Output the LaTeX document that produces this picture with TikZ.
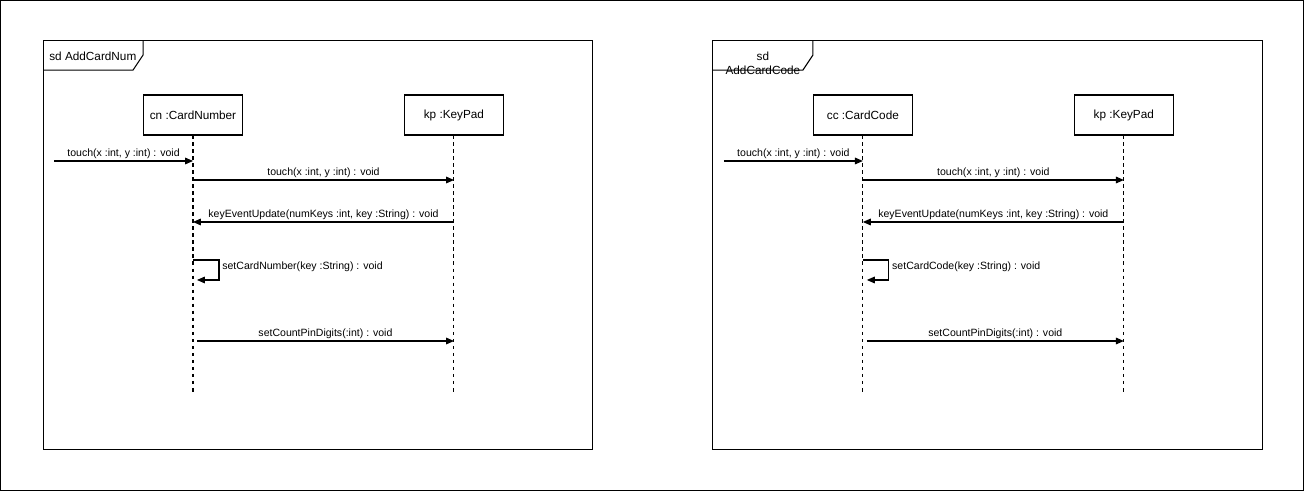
\documentclass[tikz,border=0pt]{standalone}
\usepackage{fontspec}
\setmainfont{Liberation Sans}
\usetikzlibrary{positioning}
\usetikzlibrary{arrows.meta}

\begin{document}
\begin{tikzpicture}[x=0.02cm,y=-0.02cm,
    frame/.style={draw,line width=0.6pt,minimum width=11cm,minimum height=8.2cm,inner sep=0pt,outer sep=0pt},
    tab/.style={line width=0.6pt},
    obj/.style={draw,line width=0.6pt,minimum width=1.98cm,minimum height=0.8cm,inner sep=0pt,outer sep=0pt,font=\fontsize{6.7}{8}\selectfont},
    life/.style={line width=0.6pt,dash pattern=on 2pt off 2pt},
    msg/.style={line width=0.6pt,-{Triangle[length=4.5pt,width=3.8pt]}},
    lbl/.style={font=\fontsize{6}{7}\selectfont,inner sep=0pt,above=1pt},
    selflbl/.style={font=\fontsize{6}{7}\selectfont,inner sep=0pt,anchor=west},
    sdtext/.style={font=\fontsize{6.7}{7.9}\selectfont,inner sep=0pt}]
    \useasboundingbox (0,0) rectangle (1305,492);
    \draw[line width=0.6pt] (0.5,0.5) rectangle (1303.5,490.5);
    %
    % left diagram
    \begin{scope}
    \node[frame](sdL) at (318,245){};
    \draw[tab] (sdL.north west) ++(100,0) -- ++(0,15) -- ++(-10,15) -- ++(-90,0);
    \node[sdtext,anchor=west](tabL) at (49,56){sd AddCardNum};
    %
    \node[obj](cn) at (193,115){cn :CardNumber};
    \node[obj,right=3.24cm of cn](kpL){kp :KeyPad};
    \draw[life] (cn.south) -- (cn.south |- 0,395);
    \draw[life] (kpL.south) -- (kpL.south |- 0,395);
    %
    \coordinate (foundL) at (54,161);
    \coordinate[xshift=0.08cm] (actL) at (cn.south);
    \draw[msg] (foundL) -- node[lbl]{touch(x :int, y :int) : void} (cn.south |- foundL);
    \draw[msg] (cn.south |- 0,180) -- node[lbl]{touch(x :int, y :int) : void} (kpL.south |- 0,180);
    \draw[msg] (kpL.south |- 0,222) -- node[lbl]{keyEventUpdate(numKeys :int, key :String) : void} (cn.south |- 0,222);
    \draw[msg] (cn.south |- 0,260) -- ++(26,0) -- ++(0,20) -- (actL |- 0,280);
    \node[selflbl](selfL) at (222,267){setCardNumber(key :String) : void};
    \draw[msg] (actL |- 0,341) -- node[lbl]{setCountPinDigits(:int) : void} (kpL.south |- 0,341);
    \end{scope}
    %
    % right diagram
    \begin{scope}[xshift=13.4cm]
    \node[frame](sdR) at (318,245){};
    \draw[tab] (sdR.north west) ++(100,0) -- ++(0,15) -- ++(-10,15) -- ++(-90,0);
    \node[sdtext,align=center](tabR) at (93,63){sd\\AddCardCode};
    %
    \node[obj](cc) at (193,115){cc :CardCode};
    \node[obj,right=3.24cm of cc](kpR){kp :KeyPad};
    \draw[life] (cc.south) -- (cc.south |- 0,395);
    \draw[life] (kpR.south) -- (kpR.south |- 0,395);
    %
    \coordinate (foundR) at (54,161);
    \coordinate[xshift=0.08cm] (actR) at (cc.south);
    \draw[msg] (foundR) -- node[lbl]{touch(x :int, y :int) : void} (cc.south |- foundR);
    \draw[msg] (cc.south |- 0,180) -- node[lbl]{touch(x :int, y :int) : void} (kpR.south |- 0,180);
    \draw[msg] (kpR.south |- 0,222) -- node[lbl]{keyEventUpdate(numKeys :int, key :String) : void} (cc.south |- 0,222);
    \draw[msg] (cc.south |- 0,260) -- ++(26,0) -- ++(0,20) -- (actR |- 0,280);
    \node[selflbl](selfR) at (222,267){setCardCode(key :String) : void};
    \draw[msg] (actR |- 0,341) -- node[lbl]{setCountPinDigits(:int) : void} (kpR.south |- 0,341);
    \end{scope}
\end{tikzpicture}
\end{document}
